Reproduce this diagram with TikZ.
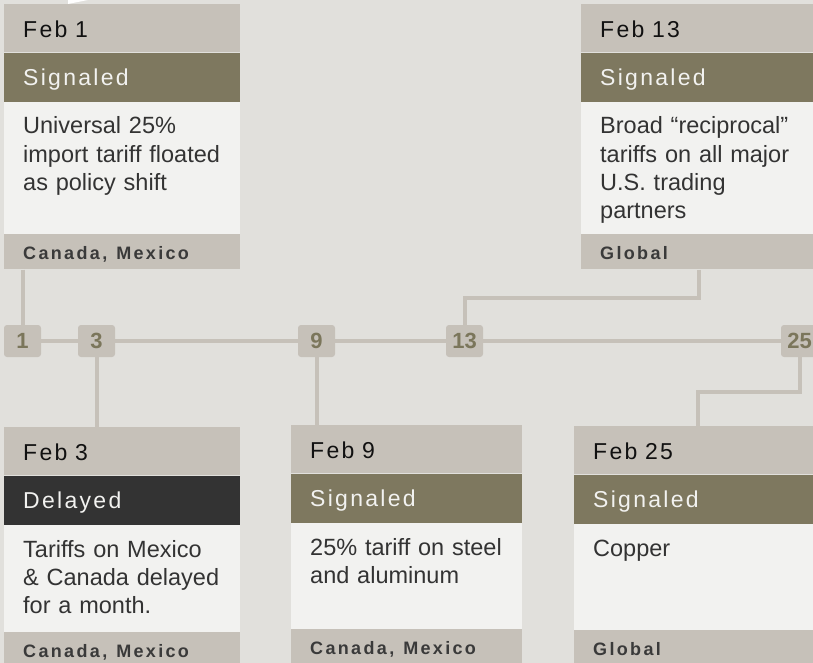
\documentclass[tikz,border=0pt]{standalone}
\usepackage{fontspec}
\setmainfont{Liberation Sans}
\newfontfamily\spaced[LetterSpace=10]{Liberation Sans}
\newfontfamily\widespaced[LetterSpace=13]{Liberation Sans}
\definecolor{paper}{HTML}{E1E0DC}
\definecolor{stone}{HTML}{C6C1B9}
\definecolor{signal}{HTML}{7E785F}
\definecolor{charcoal}{HTML}{333333}
\definecolor{sheet}{HTML}{F2F2F0}
\definecolor{ink}{HTML}{111111}
\definecolor{bodyink}{HTML}{333333}
\definecolor{footink}{HTML}{3A3A3A}
\definecolor{daynum}{HTML}{7B765B}
\tikzset{
  band/.style={rectangle, anchor=north west, inner xsep=19pt, inner ysep=0pt, align=left},
  date/.style={band, fill=stone, text=ink, font={\spaced\fontsize{23}{28}\selectfont},
    text height=33pt, text depth=15pt},
  status/.style={band, fill=signal, text=sheet, font={\spaced\fontsize{23}{28}\selectfont},
    text height=33pt, text depth=16pt},
  delayed/.style={status, fill=charcoal},
  body/.style={band, fill=sheet, text=bodyink, font={\fontsize{23.5}{28.3}\selectfont},
    text height=32pt},
  foot/.style={band, fill=stone, text=footink, font={\widespaced\bfseries\fontsize{18}{21}\selectfont},
    text height=25pt, text depth=10pt},
  day/.style={rectangle, rounded corners=3pt, fill=stone, text=daynum,
    font={\bfseries\fontsize{22}{26}\selectfont}, minimum width=37pt, minimum height=32pt, inner sep=0pt},
  link/.style={draw=stone, line width=4pt}
}
\newcommand\gap{\hspace{9pt}}
\begin{document}
\begin{tikzpicture}[x=1pt,y=-1pt]
\useasboundingbox[fill=paper] (0,0) rectangle (813,663);
\clip (0,0) rectangle (813,663);
\fill[white] (68,0) -- (68,4) -- (88,0) -- cycle;
% Feb 1
\begin{scope}[text width=198pt]
\node[date] (c1date) at (4,4) {Feb 1};
\node[status] (c1status) at (c1date.south west) {Signaled};
\node[body, text depth=100pt] (c1body) at (c1status.south west)
  {Universal 25\%\\import tariff floated\\as policy shift};
\node[foot] (c1foot) at (c1body.south west) {Canada,\gap Mexico};
\end{scope}
% Feb 13
\begin{scope}[text width=198pt]
\node[date] (c13date) at (581,4) {Feb 13};
\node[status] (c13status) at (c13date.south west) {Signaled};
\node[body, text depth=100pt] (c13body) at (c13status.south west)
  {Broad “reciprocal”\\tariffs on all major\\U.S. trading\\partners};
\node[foot] (c13foot) at (c13body.south west) {Global};
\end{scope}
% Feb 3
\begin{scope}[text width=198pt]
\node[date] (c3date) at (4,427) {Feb 3};
\node[delayed] (c3status) at (c3date.south west) {Delayed};
\node[body, text depth=75pt] (c3body) at (c3status.south west)
  {Tariffs on Mexico\\\& Canada delayed\\for a month.};
\node[foot] (c3foot) at (c3body.south west) {Canada,\gap Mexico};
\end{scope}
% Feb 9
\begin{scope}[text width=193pt]
\node[date] (c9date) at (291,425) {Feb 9};
\node[status] (c9status) at (c9date.south west) {Signaled};
\node[body, text depth=74pt] (c9body) at (c9status.south west)
  {25\% tariff on steel\\and aluminum};
\node[foot] (c9foot) at (c9body.south west) {Canada,\gap Mexico};
\end{scope}
% Feb 25
\begin{scope}[text width=210pt]
\node[date] (c25date) at (574,426) {Feb 25};
\node[status] (c25status) at (c25date.south west) {Signaled};
\node[body, text depth=74pt] (c25body) at (c25status.south west) {Copper};
\node[foot] (c25foot) at (c25body.south west) {Global};
\end{scope}
% timeline
\node[day] (d1) at (22.5,341) {1};
\node[day] (d3) at (96.5,341) {3};
\node[day] (d9) at (316.5,341) {9};
\node[day] (d13) at (464.5,341) {13};
\node[day] (d25) at (799.5,341) {25};
\draw[link] (d1.east) -- (d3.west) (d3.east) -- (d9.west)
  (d9.east) -- (d13.west) (d13.east) -- (d25.west);
\draw[link] (c1foot.south -| d1.north) -- (d1.north);
\draw[link] (d3.south) -- (d3.south |- c3date.north);
\draw[link] (d9.south) -- (d9.south |- c9date.north);
\draw[link] (c13foot.south) -- ++(0,28) -| (d13.north);
\draw[link] (d25.south) -- ++(0,35) -| (c25date.north);
\end{tikzpicture}
\end{document}
